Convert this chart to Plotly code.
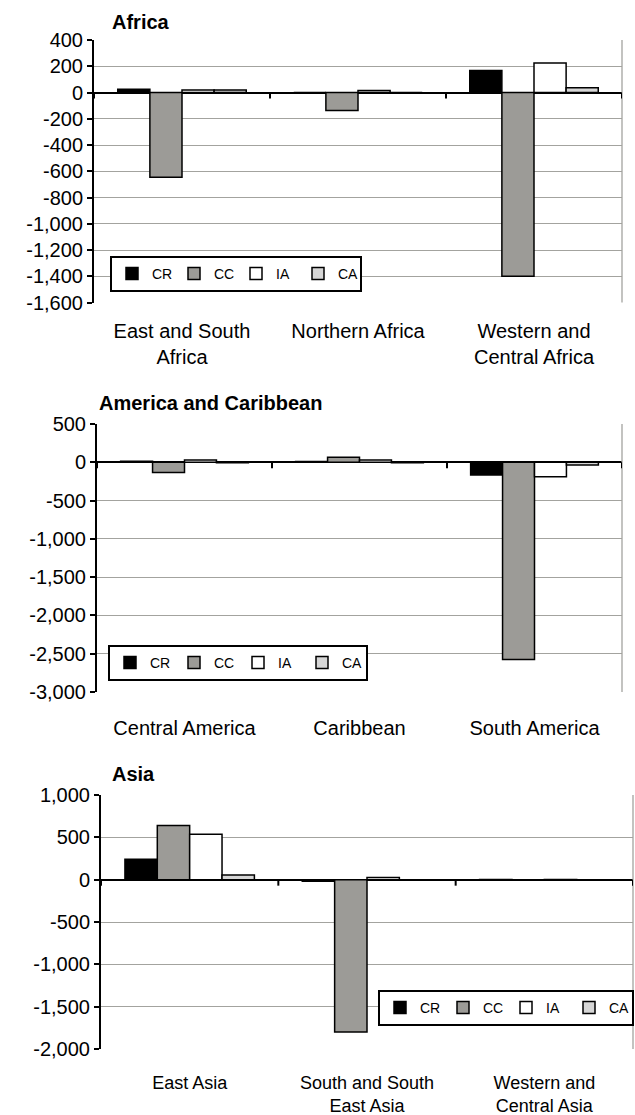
import textwrap
import plotly.graph_objects as go

W, H = 635, 1115

# ---- data -------------------------------------------------------------
series = ["CR", "CC", "IA", "CA"]
series_colors = ["#000000", "#9c9b97", "#ffffff", "#d6d6d6"]

africa_title = "Africa"
africa_cats = ["East and South Africa", "Northern Africa", "Western and Central Africa"]
africa_CR = [25, 0, 168]
africa_CC = [-645, -138, -1400]
africa_IA = [20, 15, 225]
africa_CA = [20, 0, 36]

america_title = "America and Caribbean"
america_cats = ["Central America", "Caribbean", "South America"]
america_CR = [15, 10, -165]
america_CC = [-135, 65, -2575]
america_IA = [30, 30, -190]
america_CA = [-5, -5, -35]

asia_title = "Asia"
asia_cats = ["East Asia", "South and South East Asia", "Western and Central Asia"]
asia_CR = [240, -20, 2]
asia_CC = [640, -1800, -8]
asia_IA = [535, 25, 3]
asia_CA = [55, -5, -3]

africa_yticks = list(range(-1600, 401, 200))
america_yticks = list(range(-3000, 501, 500))
asia_yticks = list(range(-2000, 1001, 500))

panels = [
    dict(title=africa_title, cats=africa_cats,
         vals=[africa_CR, africa_CC, africa_IA, africa_CA], yticks=africa_yticks),
    dict(title=america_title, cats=america_cats,
         vals=[america_CR, america_CC, america_IA, america_CA], yticks=america_yticks),
    dict(title=asia_title, cats=asia_cats,
         vals=[asia_CR, asia_CC, asia_IA, asia_CA], yticks=asia_yticks),
]

# ---- layout geometry (pixels) ----------------------------------------
plot_boxes = [  # left, right, top, bottom
    (94, 622, 40, 302.5),
    (97, 622, 424, 692),
    (101, 633, 795, 1049),
]
title_pos = [(110, 22), (97, 403), (110, 774)]
legend_pos = [(110, 256), (108, 645), (378, 990)]
legend_entry = [17, 19, 18]
label_standoff = [14, 22, 21]
label_size = [20, 20, 18]

FONT = "Liberation Sans, Arial, sans-serif"
GRID = "#a3a39f"


def px_x(v):
    return v / W


def px_y(v):
    return 1 - v / H


fig = go.Figure()
annotations = []
shapes = []

for i, p in enumerate(panels):
    n = i + 1
    ax = "" if n == 1 else str(n)
    leg = "legend" if n == 1 else f"legend{n}"
    for s, color, vals in zip(series, series_colors, p["vals"]):
        fig.add_trace(go.Bar(
            x=p["cats"], y=vals, name=s,
            marker=dict(color=color, line=dict(color="#000000", width=1.5)),
            xaxis=f"x{ax}", yaxis=f"y{ax}", legend=leg,
            hoverinfo="x+y+name",
        ))

    left, right, top, bottom = plot_boxes[i]
    yt = p["yticks"]
    fig.layout[f"xaxis{ax}"] = dict(
        domain=[px_x(left), px_x(right)], anchor=f"y{ax}",
        type="category", categoryarray=p["cats"],
        tickvals=p["cats"],
        ticktext=["<br>".join(textwrap.wrap(c, 15)) for c in p["cats"]],
        showline=False, showgrid=False, zeroline=False, ticks="",
        ticklabelstandoff=label_standoff[i], automargin=False,
        tickfont=dict(family=FONT, size=label_size[i], color="#000000"),
        range=[-0.5, len(p["cats"]) - 0.5], fixedrange=True,
    )
    fig.layout[f"yaxis{ax}"] = dict(
        domain=[px_y(bottom), px_y(top)], anchor=f"x{ax}",
        range=[yt[0], yt[-1]], automargin=False,
        tickvals=yt, ticktext=[f"{v:,}" for v in yt],
        showline=True, linecolor="#000000", linewidth=2,
        ticks="outside", ticklen=5, tickwidth=2, tickcolor="#000000",
        showgrid=True, gridcolor=GRID, gridwidth=1.3,
        zeroline=True, zerolinecolor="#000000", zerolinewidth=2,
        tickfont=dict(family=FONT, size=20, color="#000000"),
        fixedrange=True,
    )

    # right-hand frame of the plot area
    shapes.append(dict(type="line", xref=f"x{ax} domain", yref=f"y{ax} domain",
                       x0=1, x1=1, y0=0, y1=1, line=dict(color=GRID, width=1.3)))
    # category-boundary tick marks hanging from the zero line
    for b in range(len(p["cats"]) + 1):
        shapes.append(dict(type="line", xref=f"x{ax}", yref=f"y{ax}",
                           x0=b - 0.5, x1=b - 0.5, ysizemode="pixel", yanchor=0,
                           y0=0, y1=-6, line=dict(color="#000000", width=2)))

    tx, ty = title_pos[i]
    annotations.append(dict(text=f"<b>{p['title']}</b>", xref="paper", yref="paper",
                            x=px_x(tx), y=px_y(ty), xanchor="left", yanchor="middle",
                            showarrow=False,
                            font=dict(family=FONT, size=20, color="#000000")))

    lx, ly = legend_pos[i]
    fig.layout[leg] = dict(
        x=px_x(lx), y=px_y(ly), xanchor="left", yanchor="top",
        orientation="h", bgcolor="#ffffff",
        bordercolor="#000000", borderwidth=2,
        font=dict(family=FONT, size=14, color="#000000"),
        entrywidth=legend_entry[i], entrywidthmode="pixels",
        itemclick=False, itemdoubleclick=False,
        tracegroupgap=0,
    )

fig.update_layout(
    width=W, height=H,
    margin=dict(l=0, r=0, t=0, b=0, autoexpand=False),
    paper_bgcolor="#ffffff", plot_bgcolor="#ffffff",
    barmode="group", bargap=0.27, bargroupgap=0,
    showlegend=True,
    annotations=annotations, shapes=shapes,
    font=dict(family=FONT, color="#000000"),
)

fig.write_html("out.html", config={"displayModeBar": False})
